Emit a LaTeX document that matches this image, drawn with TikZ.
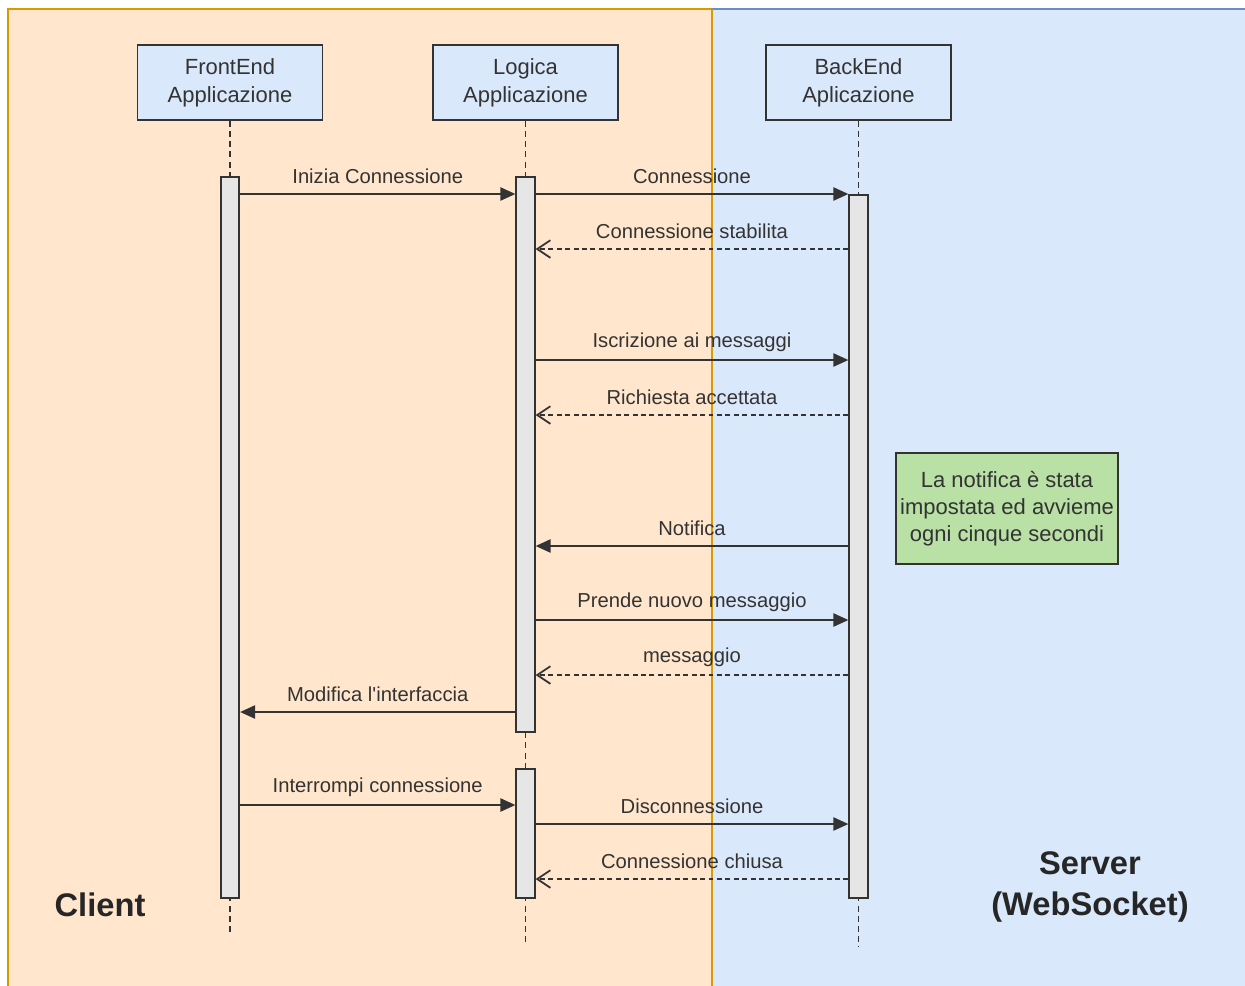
\documentclass[tikz,border=0pt]{standalone}
\usepackage{fontspec}
\setmainfont{Liberation Sans}
\usetikzlibrary{arrows.meta,positioning}
\definecolor{clientFill}{HTML}{FFE6CC}
\definecolor{clientLine}{HTML}{D79B00}
\definecolor{serverFill}{HTML}{DAE8FC}
\definecolor{serverLine}{HTML}{6C8EBF}
\definecolor{barFill}{HTML}{E6E6E6}
\definecolor{noteFill}{HTML}{B9E0A5}
\definecolor{inkGrey}{HTML}{333333}
\tikzset{
  head/.style={draw=inkGrey,fill=serverFill,line width=1pt,minimum width=3.7cm,minimum height=1.5cm,
    align=center,text=inkGrey,font=\fontsize{12.5}{15.9}\selectfont},
  actbar/.style={draw=inkGrey,fill=barFill,line width=1pt,minimum width=0.37cm,inner sep=0pt,anchor=north},
  life/.style={draw=inkGrey,line width=1.1pt,dash pattern=on 3.4pt off 2.4pt},
  msg/.style={draw=inkGrey,line width=1pt,-{Triangle[length=8.5pt,width=7.5pt]}},
  reply/.style={draw=inkGrey,line width=1pt,dash pattern=on 2.8pt off 2pt,-{Straight Barb[length=7.5pt,width=10pt,line width=1pt]}},
  lbl/.style={midway,yshift=0.36cm,text=inkGrey,font=\fontsize{11.5}{13}\selectfont,inner sep=0pt},
  side/.style={align=center,font=\fontsize{18.6}{23.8}\selectfont\bfseries,text=black!85}
}
\newcommand{\actnode}[4]{\node[actbar,minimum height={(#4-#3)*0.02cm}] (#1) at (#2,#3) {};}
\begin{document}
\begin{tikzpicture}[x=0.02cm,y=-0.02cm]
\useasboundingbox (0,0) rectangle (1245,985);
\fill[white] (0,0) rectangle (1245,985);
% swimlanes
\draw[fill=clientFill,draw=clientLine,line width=0.9pt] (8,9) rectangle (712,995);
\draw[fill=serverFill,draw=serverLine,line width=0.9pt] (712,9) rectangle (1255,995);
\draw[clientLine,line width=0.9pt] (712,9) -- (712,995);
\node[side] (client) at (100,905) {Client};
\node[side] (server) at (1090,887) {Server\\(WebSocket)};
% participants
\node[head] (fe) at (230,82.5) {FrontEnd\\Applicazione};
\node[head] (lg) at (525.5,82.5) {Logica\\Applicazione};
\node[head] (be) at (858.5,82.5) {BackEnd\\Aplicazione};
\coordinate (feEnd) at (230,935);
\coordinate (lgEnd) at (525.5,945);
\coordinate (beEnd) at (858.5,947);
\draw[life] (fe.south) -- (feEnd);
\draw[life] (lg.south) -- (lgEnd);
\draw[life] (be.south) -- (beEnd);
\actnode{feA}{230}{176}{897}
\actnode{lgA}{525.5}{176}{731}
\actnode{lgB}{525.5}{768}{897}
\actnode{beA}{858.5}{194}{897}
\node[draw=inkGrey,fill=noteFill,line width=1pt,minimum width=4.44cm,minimum height=2.22cm,align=center,
  text=inkGrey,font=\fontsize{12.5}{15.3}\selectfont,inner sep=1pt] (note) at (1007,508.5)
  {La notifica è stata\\impostata ed avvieme\\ogni cinque secondi};
% messages
\foreach \n/\y in {m1/194,m3/249,m4/360,m5/415,m6/546,m7/620,m8/675,m9/712,m10/805,m11/824,m12/879}
  \coordinate (\n) at (0,\y);
\draw[msg] (feA.east |- m1) -- node[lbl] {Inizia Connessione} (lgA.west |- m1);
\draw[msg] (lgA.east |- m1) -- node[lbl] {Connessione} (beA.west |- m1);
\draw[reply] (beA.west |- m3) -- node[lbl] {Connessione stabilita} (lgA.east |- m3);
\draw[msg] (lgA.east |- m4) -- node[lbl] {Iscrizione ai messaggi} (beA.west |- m4);
\draw[reply] (beA.west |- m5) -- node[lbl] {Richiesta accettata} (lgA.east |- m5);
\draw[msg] (beA.west |- m6) -- node[lbl] {Notifica} (lgA.east |- m6);
\draw[msg] (lgA.east |- m7) -- node[lbl] {Prende nuovo messaggio} (beA.west |- m7);
\draw[reply] (beA.west |- m8) -- node[lbl] {messaggio} (lgA.east |- m8);
\draw[msg] (lgA.west |- m9) -- node[lbl] {Modifica l\textquotesingle interfaccia} (feA.east |- m9);
\draw[msg] (feA.east |- m10) -- node[lbl] {Interrompi connessione} (lgB.west |- m10);
\draw[msg] (lgB.east |- m11) -- node[lbl] {Disconnessione} (beA.west |- m11);
\draw[reply] (beA.west |- m12) -- node[lbl] {Connessione chiusa} (lgB.east |- m12);
\end{tikzpicture}
\end{document}
